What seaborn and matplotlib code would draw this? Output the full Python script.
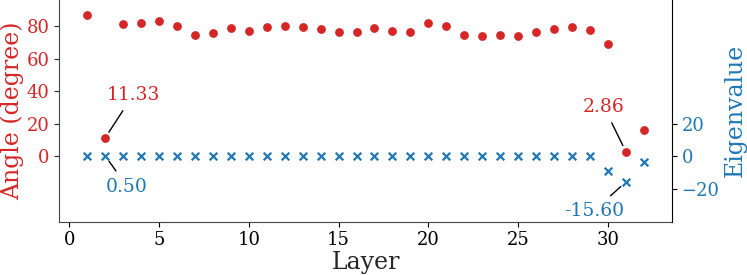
import numpy as np
import pandas as pd
import matplotlib
matplotlib.use('Agg')
import matplotlib.pyplot as plt
import seaborn as sns

# values
layers = list(range(1, 33))
angle = [86.6, 11.33, 81.3, 81.9, 82.9, 80.0, 74.3, 75.9, 79.0, 77.2, 79.6, 80.2, 79.4, 78.0,
         76.5, 76.4, 78.6, 77.2, 76.5, 81.9, 79.8, 74.7, 73.7, 74.5, 73.7, 76.2, 78.2, 79.6,
         77.4, 68.8, 2.86, 16.5]
eigen = [0.4, 0.50, 0.3, 0.4, 0.3, 0.4, 0.3, 0.3, 0.4, 0.3, 0.4, 0.3, 0.3, 0.4, 0.3, 0.3,
         0.4, 0.3, 0.3, 0.4, 0.3, 0.3, 0.4, 0.3, 0.3, 0.4, 0.3, 0.3, 0.4, -8.8, -15.60, -3.7]

df = pd.DataFrame({'Layer': layers, 'Angle': angle, 'Eigen': eigen})

red = '#d62728'
blue = '#1f77b4'

sns.set_theme(style='ticks')
plt.rcParams['font.family'] = ['DejaVu Serif']
plt.rcParams.update({
    'xtick.major.size': 3.5, 'ytick.major.size': 3.5,
    'xtick.major.width': 0.8, 'ytick.major.width': 0.8,
    'xtick.major.pad': 3.5, 'ytick.major.pad': 3.5,
    'axes.linewidth': 0.8, 'axes.labelpad': 4.0,
})

fig = plt.figure(figsize=(7.47, 2.75), dpi=100)
ax = fig.add_axes([0.0794, 0.194, 0.8198, 0.806])
ax2 = ax.twinx()

sns.scatterplot(data=df, x='Layer', y='Angle', ax=ax, color=red, s=40, linewidth=0, zorder=3)
sns.scatterplot(data=df, x='Layer', y='Eigen', ax=ax2, color=blue, marker='x', s=30, linewidth=1.6)

ax.set_ylim(-40, 96)
ax2.set_ylim(-40, 96)
ax.set_yticks([0, 20, 40, 60, 80])
ax2.set_yticks([-20, 0, 20])
ax.set_xticks([0, 5, 10, 15, 20, 25, 30])

ax.set_xlabel('Layer', fontsize=17, labelpad=1)
ax.set_ylabel('Angle (degree)', fontsize=17, color=red, labelpad=2)
ax2.set_ylabel('Eigenvalue', fontsize=17, color=blue, labelpad=3)
ax.tick_params(axis='x', labelsize=13, colors='black')
ax.tick_params(axis='y', labelsize=13, labelcolor=red)
ax2.tick_params(axis='y', labelsize=13, labelcolor=blue, color='black')

for a in (ax, ax2):
    a.spines['top'].set_visible(False)
ax.spines['right'].set_visible(False)
ax.spines['left'].set_color('#444444')
ax.spines['bottom'].set_color('#444444')
ax2.spines['left'].set_visible(False)
ax2.spines['bottom'].set_visible(False)
ax2.spines['right'].set_color('black')

arrow = dict(arrowstyle='-', color='black', lw=1, shrinkA=3, shrinkB=5)
ax.annotate(f'{angle[1]:.2f}', xy=(layers[1], angle[1]), xytext=(28, 43), textcoords='offset pixels',
            ha='center', va='center', fontsize=13.5, color=red, arrowprops=arrow)
ax.annotate(f'{angle[30]:.2f}', xy=(layers[30], angle[30]), xytext=(-22, 45), textcoords='offset pixels',
            ha='center', va='center', fontsize=13.5, color=red, arrowprops=arrow)
ax2.annotate(f'{eigen[1]:.2f}', xy=(layers[1], eigen[1]), xytext=(22, -31), textcoords='offset pixels',
             ha='center', va='center', fontsize=13.5, color=blue, arrowprops=arrow)
ax2.annotate(f'{eigen[30]:.2f}', xy=(layers[30], eigen[30]), xytext=(-32, -29), textcoords='offset pixels',
             ha='center', va='center', fontsize=13.5, color=blue, arrowprops=arrow)

fig.savefig('out.png', dpi=100)
